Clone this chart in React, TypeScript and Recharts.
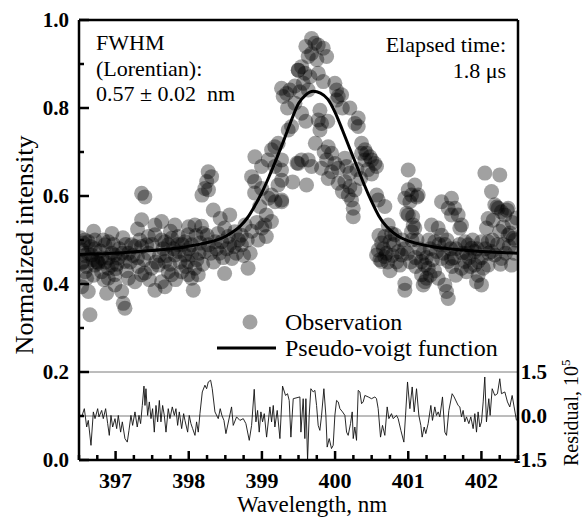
import { ComposedChart, Scatter, Line, XAxis, YAxis, ReferenceLine, Legend } from 'recharts'

const FONT = '"Liberation Serif", "Times New Roman", Times, serif'

// observed points: [wavelength nm, normalized intensity]
const obsLeft = [
  [396.536, 0.478], [396.559, 0.493], [396.627, 0.496], [396.718, 0.5], [396.855, 0.489], [396.9, 0.496],
  [396.673, 0.466], [396.741, 0.451], [396.809, 0.459], [396.9, 0.459], [396.946, 0.443], [396.991, 0.421],
  [396.9, 0.413], [396.991, 0.398], [397.083, 0.383], [397.105, 0.356], [397.128, 0.345], [396.878, 0.379],
  [396.627, 0.383], [396.65, 0.33], [396.536, 0.394], [396.582, 0.428], [396.718, 0.443], [396.809, 0.428],
  [396.55, 0.45], [396.76, 0.45], [396.62, 0.47], [396.72, 0.48], [396.86, 0.45], [396.536, 0.447],
  [396.764, 0.447], [396.9, 0.436], [396.604, 0.413], [396.991, 0.466], [397.037, 0.459], [397.05, 0.48],
  [397.128, 0.451], [397.174, 0.47], [397.219, 0.489], [397.265, 0.485], [397.356, 0.485], [397.424, 0.489],
  [397.447, 0.508], [397.538, 0.512], [397.629, 0.5], [397.72, 0.489], [397.766, 0.504], [397.857, 0.508],
  [397.948, 0.496], [397.993, 0.512], [397.174, 0.413], [397.265, 0.405], [397.356, 0.421], [397.492, 0.436],
  [397.583, 0.443], [397.675, 0.451], [397.72, 0.428], [397.629, 0.405], [397.538, 0.386], [397.675, 0.394],
  [397.766, 0.421], [397.902, 0.428], [397.993, 0.451], [397.2, 0.45], [397.3, 0.46], [397.45, 0.47],
  [397.55, 0.45], [397.65, 0.48], [397.675, 0.496], [397.85, 0.49], [397.857, 0.474], [397.811, 0.466],
  [397.948, 0.466], [397.993, 0.421], [397.356, 0.546], [397.538, 0.534], [397.629, 0.542], [397.811, 0.534],
  [397.356, 0.606], [397.4, 0.598],
]

const obsLeftBand = [
  [396.58, 0.465], [396.66, 0.485], [396.69, 0.455], [396.79, 0.475], [396.83, 0.5], [396.95, 0.47],
  [396.97, 0.49], [397.02, 0.445], [397.09, 0.47], [397.14, 0.49], [397.24, 0.465], [397.31, 0.44],
  [397.33, 0.5], [397.39, 0.455], [397.5, 0.49], [397.6, 0.465], [397.7, 0.465], [397.74, 0.445],
  [397.79, 0.48], [397.88, 0.45], [397.91, 0.49], [397.96, 0.44], [398.0, 0.48], [398.11, 0.455],
  [398.14, 0.47], [398.19, 0.445], [398.3, 0.47], [398.34, 0.45], [398.38, 0.48], [398.42, 0.47],
  [398.47, 0.46], [398.52, 0.48], [398.56, 0.49], [398.62, 0.485], [398.65, 0.47], [398.75, 0.465],
  [398.8, 0.5], [398.86, 0.52], [398.93, 0.54], [398.95, 0.5], [396.52, 0.505], [396.6, 0.44],
  [396.7, 0.42], [396.84, 0.41], [397.0, 0.435], [397.15, 0.43], [397.4, 0.425], [397.46, 0.41],
  [397.82, 0.41], [398.1, 0.51], [398.25, 0.51], [398.0, 0.53], [397.75, 0.52], [397.3, 0.525],
  [396.95, 0.515], [396.7, 0.52], [396.58, 0.5], [397.1, 0.505],
]

const obsRise = [
  [398.039, 0.466], [398.084, 0.436], [398.13, 0.421], [398.039, 0.413], [398.062, 0.386], [398.039, 0.489],
  [398.153, 0.493], [398.221, 0.474], [398.198, 0.515], [398.266, 0.489], [398.084, 0.534], [398.175, 0.531],
  [398.245, 0.633], [398.22, 0.617], [398.27, 0.614], [398.18, 0.602], [398.266, 0.655], [398.312, 0.644],
  [398.335, 0.568], [398.43, 0.549], [398.56, 0.557], [398.49, 0.527], [398.4, 0.515], [398.36, 0.496],
  [398.45, 0.496], [398.54, 0.508], [398.68, 0.5], [398.72, 0.511], [398.63, 0.519], [398.77, 0.534],
  [398.72, 0.489], [398.59, 0.458], [398.49, 0.424], [398.84, 0.47], [398.81, 0.436], [399.06, 0.508],
  [398.9, 0.607], [398.97, 0.576], [399.06, 0.557], [399.13, 0.542], [399.04, 0.534], [399.0, 0.527],
  [398.9, 0.633], [398.996, 0.617], [399.13, 0.602], [399.18, 0.587], [399.22, 0.625], [399.09, 0.595],
  [399.27, 0.587], [398.859, 0.644], [398.904, 0.689], [398.995, 0.667], [399.086, 0.682], [399.177, 0.667],
  [399.268, 0.682], [399.268, 0.659], [399.177, 0.712], [399.132, 0.705], [399.223, 0.72], [399.27, 0.636],
  [399.27, 0.591], [399.42, 0.632], [399.48, 0.675], [399.36, 0.75], [399.405, 0.758],
]

const obsPeak = [
  [399.268, 0.845], [399.337, 0.833], [399.382, 0.841], [399.291, 0.826], [399.496, 0.886], [399.496, 0.674],
  [399.679, 0.958], [399.724, 0.947], [399.77, 0.943], [399.838, 0.936], [399.884, 0.917], [399.679, 0.924],
  [399.633, 0.917], [399.542, 0.894], [399.497, 0.886], [399.588, 0.879], [399.656, 0.871], [399.77, 0.879],
  [399.838, 0.86], [399.565, 0.856], [399.519, 0.837], [399.451, 0.811], [399.542, 0.788], [399.633, 0.841],
  [399.997, 0.856], [400.02, 0.841], [400.043, 0.826], [400.089, 0.83], [400.02, 0.818], [399.793, 0.795],
  [399.77, 0.773], [399.815, 0.765], [399.793, 0.75], [400.202, 0.8], [400.316, 0.777], [400.316, 0.758],
  [400.271, 0.765], [399.906, 0.712], [399.952, 0.697], [399.884, 0.682], [399.997, 0.674], [400.043, 0.663],
  [399.952, 0.655], [400.134, 0.686], [400.157, 0.667], [400.202, 0.652], [399.633, 0.682], [399.679, 0.667],
  [399.542, 0.682], [399.815, 0.663], [399.61, 0.625], [400.3, 0.66], [400.35, 0.64], [400.45, 0.66],
  [400.5, 0.65], [400.1, 0.61], [399.85, 0.7], [399.73, 0.72], [399.9, 0.77], [400.1, 0.8],
  [399.6, 0.77], [399.35, 0.8], [399.45, 0.85], [399.6, 0.94], [399.75, 0.91],
]

const obsFall = [
  [400.362, 0.72], [400.407, 0.705], [400.43, 0.697], [400.476, 0.689], [400.498, 0.682], [400.544, 0.674],
  [400.566, 0.667], [400.407, 0.682], [400.362, 0.697], [399.906, 0.64], [400.043, 0.629], [400.134, 0.633],
  [400.202, 0.621], [400.271, 0.614], [400.18, 0.602], [400.225, 0.591], [400.248, 0.553], [400.248, 0.572],
  [400.567, 0.602], [400.589, 0.591], [400.68, 0.576], [400.726, 0.534], [400.772, 0.515], [400.817, 0.512],
  [400.68, 0.508], [400.749, 0.496], [400.635, 0.493], [400.589, 0.477], [400.567, 0.466], [400.612, 0.455],
  [400.68, 0.462], [400.635, 0.451], [400.7, 0.47], [400.8, 0.49], [400.863, 0.474], [400.908, 0.466],
  [400.885, 0.443], [400.95, 0.48], [400.954, 0.401], [400.954, 0.386],
]

const obsRight = [
  [400.999, 0.659], [401.0, 0.614], [401.045, 0.602], [401.09, 0.625], [400.954, 0.595], [401.022, 0.587],
  [401.136, 0.602], [401.12, 0.598], [401.0, 0.557], [400.98, 0.561], [401.06, 0.553], [401.068, 0.534],
  [401.09, 0.527], [401.045, 0.519], [401.05, 0.5], [401.15, 0.48], [401.181, 0.451], [401.227, 0.443],
  [401.273, 0.436], [401.181, 0.421], [401.25, 0.413], [401.204, 0.398], [401.227, 0.405], [401.25, 0.46],
  [401.3, 0.48], [401.318, 0.534], [401.409, 0.527], [401.364, 0.496], [401.455, 0.511], [401.386, 0.474],
  [401.455, 0.458], [401.546, 0.451], [401.591, 0.458], [401.5, 0.49], [401.455, 0.587], [401.591, 0.595],
  [401.637, 0.572], [401.682, 0.557], [401.728, 0.534], [401.705, 0.527], [401.591, 0.557], [401.546, 0.572],
  [401.409, 0.413], [401.5, 0.398], [401.523, 0.383], [401.546, 0.367], [401.6, 0.44], [401.65, 0.48],
  [401.773, 0.496], [401.819, 0.489], [401.864, 0.481], [401.91, 0.474], [402.001, 0.496], [401.955, 0.451],
  [401.91, 0.443], [402.024, 0.436], [401.955, 0.42], [401.933, 0.405], [402.001, 0.398], [401.773, 0.451],
  [401.728, 0.436], [401.796, 0.428], [401.8, 0.47], [401.85, 0.44], [402.0, 0.46], [402.092, 0.496],
  [402.138, 0.474], [402.183, 0.466], [402.274, 0.458], [402.092, 0.443], [402.3, 0.49], [402.45, 0.47],
  [402.183, 0.58], [402.229, 0.572], [402.274, 0.564], [402.32, 0.557], [402.365, 0.572], [402.138, 0.61],
  [402.092, 0.549], [402.069, 0.527], [402.365, 0.511], [402.434, 0.504], [402.411, 0.443], [402.21, 0.575],
  [402.35, 0.568], [402.16, 0.545], [402.39, 0.516], [402.047, 0.652], [402.251, 0.648],
]

const obsRightBand = [
  [400.6, 0.51], [400.66, 0.48], [400.72, 0.45], [400.78, 0.465], [400.84, 0.45], [400.92, 0.5],
  [400.99, 0.47], [401.03, 0.45], [401.1, 0.46], [401.12, 0.5], [401.2, 0.47], [401.28, 0.5],
  [401.33, 0.455], [401.36, 0.43], [401.42, 0.49], [401.48, 0.47], [401.53, 0.5], [401.58, 0.48],
  [401.63, 0.46], [401.7, 0.49], [401.74, 0.47], [401.83, 0.46], [401.88, 0.5], [401.94, 0.48],
  [402.05, 0.48], [402.1, 0.47], [402.15, 0.5], [402.22, 0.49], [402.26, 0.445], [402.33, 0.47],
  [402.38, 0.485], [402.46, 0.5], [402.48, 0.55], [402.42, 0.54], [402.3, 0.53], [402.25, 0.52],
  [401.65, 0.42], [401.3, 0.42], [400.75, 0.43], [401.1, 0.44],
]

// pseudo-voigt fit
const fitWl = [
  396.5, 396.8, 397.1, 397.4, 397.7, 397.9, 398.1, 398.3, 398.5, 398.6, 398.7, 398.8, 398.9, 399.0,
  399.1, 399.2, 399.3, 399.4, 399.5, 399.6, 399.7, 399.8, 399.9, 400.0, 400.1, 400.2, 400.3, 400.4,
  400.5, 400.6, 400.7, 400.8, 400.9, 401.0, 401.2, 401.4, 401.7, 402.0, 402.5,
]
const fitVal = [
  0.467, 0.469, 0.471, 0.475, 0.479, 0.483, 0.489, 0.496, 0.508, 0.518, 0.531, 0.55, 0.577, 0.608,
  0.645, 0.685, 0.727, 0.771, 0.81, 0.83, 0.838, 0.834, 0.82, 0.79, 0.75, 0.708, 0.667, 0.625,
  0.587, 0.554, 0.531, 0.516, 0.505, 0.498, 0.489, 0.483, 0.478, 0.474, 0.47,
]

// residual, x10^5: [wavelength, residual]
const resPoints = [
  [396.536, -0.03], [396.573, 0.25], [396.605, -0.375], [396.627, -0.15], [396.664, -1.0], [396.696, 0.14],
  [396.719, -0.09], [396.755, 0.25], [396.773, -0.03], [396.81, 0.19], [396.832, -0.09], [396.864, 0.25],
  [396.892, -0.26], [396.914, -0.66], [396.937, 0.02], [396.96, -0.375], [396.992, -0.09], [397.015, -0.43],
  [397.037, 0.02], [397.069, -0.55], [397.092, -0.2], [397.128, -0.77], [397.16, -0.89], [397.183, -0.49],
  [397.21, 0.02], [397.233, -0.32], [397.265, 0.14], [397.296, -0.375], [397.32, 0.02], [397.342, -0.26],
  [397.365, 0.36], [397.388, 1.02], [397.402, 0.36], [397.415, 0.93], [397.438, 0.02], [397.461, 0.48],
  [397.484, -0.09], [397.506, 0.25], [397.529, -0.55], [397.552, 0.36], [397.575, -0.2], [397.598, 0.53],
  [397.62, -0.2], [397.643, 0.36], [397.666, 0.02], [397.689, -0.55], [397.72, 0.25], [397.743, -0.09],
  [397.775, 0.31], [397.803, 0.02], [397.825, 0.25], [397.848, -0.32], [397.871, 0.14], [397.903, -0.43],
  [397.93, 0.08], [397.948, -0.15], [397.985, -0.55], [398.007, 0.02], [398.03, -0.26], [398.053, -0.43],
  [398.085, -0.66], [398.107, -0.2], [398.13, -0.55], [398.153, 0.08], [398.185, 0.82], [398.221, 1.05],
  [398.244, 0.93], [398.267, 1.16], [398.299, 1.22], [398.321, 0.93], [398.358, 0.14], [398.403, -0.09],
  [398.43, 0.25], [398.453, 0.02], [398.481, -0.15], [398.508, -0.6], [398.585, 0.31], [398.608, -0.32],
  [398.654, -0.03], [398.699, -0.15], [398.745, -0.09], [398.781, -0.26], [398.827, -0.83], [398.859, -0.32],
  [398.895, 0.91], [398.918, -0.2], [398.941, 0.19], [398.963, -0.55], [398.986, 0.14], [399.009, -0.2],
  [399.032, 0.08], [399.064, -0.72], [399.109, 0.31], [399.132, -0.2], [399.155, 0.36], [399.177, -0.375],
  [399.209, 0.19], [399.246, -0.77], [399.282, 1.02], [399.323, 0.7], [399.35, 0.76], [399.373, 0.53],
  [399.396, -0.72], [399.428, 0.59], [399.519, 0.65], [399.533, -0.55], [399.564, 0.59], [399.587, -0.77],
  [399.601, 0.59], [399.624, -1.51], [399.646, 0.02], [399.669, 0.93], [399.701, 0.82], [399.724, 0.875],
  [399.747, 0.36], [399.769, -0.32], [399.792, -0.49], [399.815, 0.02], [399.847, 0.93], [399.874, 0.02],
  [399.892, -1.06], [399.92, -0.77], [399.951, -1.11], [399.974, -1.0], [399.997, 0.02], [400.02, 0.53],
  [400.043, 0.48], [400.066, 0.25], [400.102, 0.14], [400.134, 0.02], [400.157, -0.55], [400.179, -0.66],
  [400.211, -0.26], [400.234, 0.14], [400.248, -0.77], [400.27, -0.375], [400.293, -0.83], [400.316, 0.875],
  [400.339, 0.82], [400.362, 0.42], [400.384, 0.48], [400.407, 0.7], [400.453, 0.65], [400.498, 0.59],
  [400.544, 0.65], [400.566, 0.59], [400.589, 0.25], [400.621, -0.72], [400.648, -0.32], [400.68, -0.66],
  [400.712, 0.31], [400.735, -0.09], [400.771, 0.08], [400.794, -0.09], [400.84, 0.02], [400.862, -0.09],
  [400.899, -0.49], [400.94, -0.89], [400.963, 0.02], [400.99, 1.16], [401.022, 0.25], [401.054, 0.99],
  [401.081, 0.14], [401.113, 0.93], [401.145, 0.02], [401.172, -0.32], [401.19, -0.72], [401.218, -0.375],
  [401.24, -0.6], [401.272, -0.26], [401.309, 0.36], [401.331, -0.15], [401.363, 0.31], [401.386, 0.02],
  [401.409, 0.14], [401.432, -0.03], [401.468, 0.65], [401.5, -0.55], [401.523, -0.66], [401.555, 0.19],
  [401.6, 0.76], [401.627, 0.65], [401.682, 0.36], [401.705, 0.31], [401.728, -0.03], [401.75, 0.19],
  [401.773, -0.2], [401.796, -0.03], [401.828, -0.26], [401.855, -0.03], [401.887, -0.43], [401.91, 0.08],
  [401.933, -0.55], [401.955, 0.14], [401.978, -0.375], [402.001, -0.2], [402.024, 0.48], [402.046, 1.33],
  [402.069, -0.2], [402.101, 0.59], [402.119, 0.02], [402.147, 0.93], [402.183, 0.7], [402.219, 0.76],
  [402.251, 1.27], [402.274, 0.76], [402.32, 0.82], [402.356, 0.48], [402.388, 0.31], [402.42, 0.7],
  [402.447, 0.31], [402.479, -0.15],
]

const xTicks = [
  396.5, 396.75, 397, 397.25, 397.5, 397.75, 398, 398.25, 398.5, 398.75, 399, 399.25, 399.5,
  399.75, 400, 400.25, 400.5, 400.75, 401, 401.25, 401.5, 401.75, 402, 402.25, 402.5,
]
const yTicks = [0, 0.1, 0.2, 0.3, 0.4, 0.5, 0.6, 0.7, 0.8, 0.9, 1.0]
const resTicks = [-1.5, 0, 1.5]

const observation = [...obsLeft, ...obsLeftBand, ...obsRise, ...obsPeak, ...obsFall, ...obsRight, ...obsRightBand]
  .map(([x, y]) => ({ x, y }))
const fit = fitWl.map((x, i) => ({ x, y: fitVal[i] }))
const residual = resPoints.map(([x, r]) => ({ x, r }))

const XTick = (props: any) => {
  const { x, y, payload } = props
  const v = payload.value
  const major = Math.abs(v - Math.round(v)) < 1e-6
  return (
    <g>
      <line x1={x} x2={x} y1={y} y2={y - (major ? 9 : 5)} stroke="#000" strokeWidth={2.5} />
      {major && (
        <text x={x} y={y + 28} textAnchor="middle" fontFamily={FONT} fontWeight="bold" fontSize={22} fill="#000">
          {v}
        </text>
      )}
    </g>
  )
}

const YTick = (props: any) => {
  const { x, y, payload } = props
  const v = payload.value
  const major = Math.round(v * 10) % 2 === 0
  return (
    <g>
      <line x1={x} x2={x + (major ? 10 : 5)} y1={y} y2={y} stroke="#000" strokeWidth={2.5} />
      {major && (
        <text x={x - 10} y={y + 7} textAnchor="end" fontFamily={FONT} fontWeight="bold" fontSize={21} fill="#000">
          {v.toFixed(1)}
        </text>
      )}
    </g>
  )
}

const ResTick = (props: any) => {
  const { x, y, payload } = props
  return (
    <text x={x + 29} y={y + 7} textAnchor="end" fontFamily={FONT} fontWeight="bold" fontSize={21} fill="#000">
      {payload.value.toFixed(1)}
    </text>
  )
}

const LegendBox = () => (
  <svg width={310} height={62} style={{ display: 'block' }}>
    <circle cx={45} cy={17} r={7.5} fill="#000" fillOpacity={0.37} />
    <text x={80} y={25} fontFamily={FONT} fontSize={24} fill="#000">Observation</text>
    <line x1={12} x2={71} y1={43} y2={43} stroke="#000" strokeWidth={3} />
    <text x={80} y={51} fontFamily={FONT} fontSize={24} fill="#000">Pseudo-voigt function</text>
  </svg>
)

const textStyle = { fontFamily: FONT, fill: '#000' }

const App = () => {
  return (
    <div style={{ position: 'relative', width: 582, height: 518 }}>
      <style>{`body { margin: 0; }`}</style>
      <ComposedChart width={582} height={518} margin={{ top: 20, right: 24, bottom: 18, left: 19 }}>
        <XAxis
          dataKey="x"
          type="number"
          domain={[396.5, 402.5]}
          ticks={xTicks}
          interval={0}
          allowDataOverflow
          height={40}
          tickSize={0}
          tickMargin={0}
          tickLine={false}
          tick={<XTick />}
          axisLine={{ stroke: '#000', strokeWidth: 2.5 }}
        />
        <YAxis
          yAxisId="left"
          type="number"
          domain={[0, 1]}
          ticks={yTicks}
          interval={0}
          allowDataOverflow
          width={60}
          tickSize={0}
          tickMargin={0}
          tickLine={false}
          tick={<YTick />}
          axisLine={{ stroke: '#000', strokeWidth: 2.5 }}
        />
        <YAxis
          yAxisId="res"
          orientation="right"
          type="number"
          domain={[-1.5, 13.5]}
          ticks={resTicks}
          interval={0}
          allowDataOverflow
          width={40}
          tickSize={0}
          tickMargin={0}
          tickLine={false}
          tick={<ResTick />}
          axisLine={{ stroke: '#000', strokeWidth: 2.5 }}
        />
        <ReferenceLine yAxisId="left" y={0.2} stroke="#7a7a7a" strokeWidth={1} />
        <ReferenceLine yAxisId="left" y={0.1} stroke="#7a7a7a" strokeWidth={1} />
        <ReferenceLine yAxisId="left" y={1} stroke="#000" strokeWidth={2.5} />
        <Scatter
          yAxisId="left"
          data={observation}
          dataKey="y"
          isAnimationActive={false}
          shape={(p: any) => <circle cx={p.cx} cy={p.cy} r={7.5} fill="#000" fillOpacity={0.37} />}
        />
        <Line
          yAxisId="left"
          data={fit}
          dataKey="y"
          type="monotone"
          stroke="#000"
          strokeWidth={3}
          dot={false}
          isAnimationActive={false}
        />
        <Line
          yAxisId="res"
          data={residual}
          dataKey="r"
          type="linear"
          stroke="#111"
          strokeWidth={0.9}
          dot={false}
          isAnimationActive={false}
        />
        <Legend
          layout="horizontal"
          verticalAlign="middle"
          align="center"
          wrapperStyle={{ left: 205, top: 305, width: 310, height: 62 }}
          content={() => <LegendBox />}
        />
      </ComposedChart>
      <svg width={582} height={518} style={{ position: 'absolute', left: 0, top: 0, pointerEvents: 'none' }}>
        <text x={96} y={50} fontSize={22} {...textStyle}>FWHM</text>
        <text x={96} y={76} fontSize={22} {...textStyle}>(Lorentian):</text>
        <text x={96} y={101} fontSize={22} {...textStyle}>0.57 ± 0.02{'\u00a0'} nm</text>
        <text x={506} y={52} fontSize={22} textAnchor="end" {...textStyle}>Elapsed time:</text>
        <text x={506} y={78} fontSize={22} textAnchor="end" {...textStyle}>1.8 μs</text>
        <text x={33} y={245} fontSize={26} textAnchor="middle" transform="rotate(-90 33 245)" {...textStyle}>
          Normalized intensity
        </text>
        <text x={312} y={512} fontSize={23} textAnchor="middle" {...textStyle}>Wavelength, nm</text>
        <text x={578} y={466} fontSize={20} transform="rotate(-90 578 466)" {...textStyle}>
          Residual, 10<tspan dy={-8} fontSize={13}>5</tspan>
        </text>
      </svg>
    </div>
  )
}

export default App
